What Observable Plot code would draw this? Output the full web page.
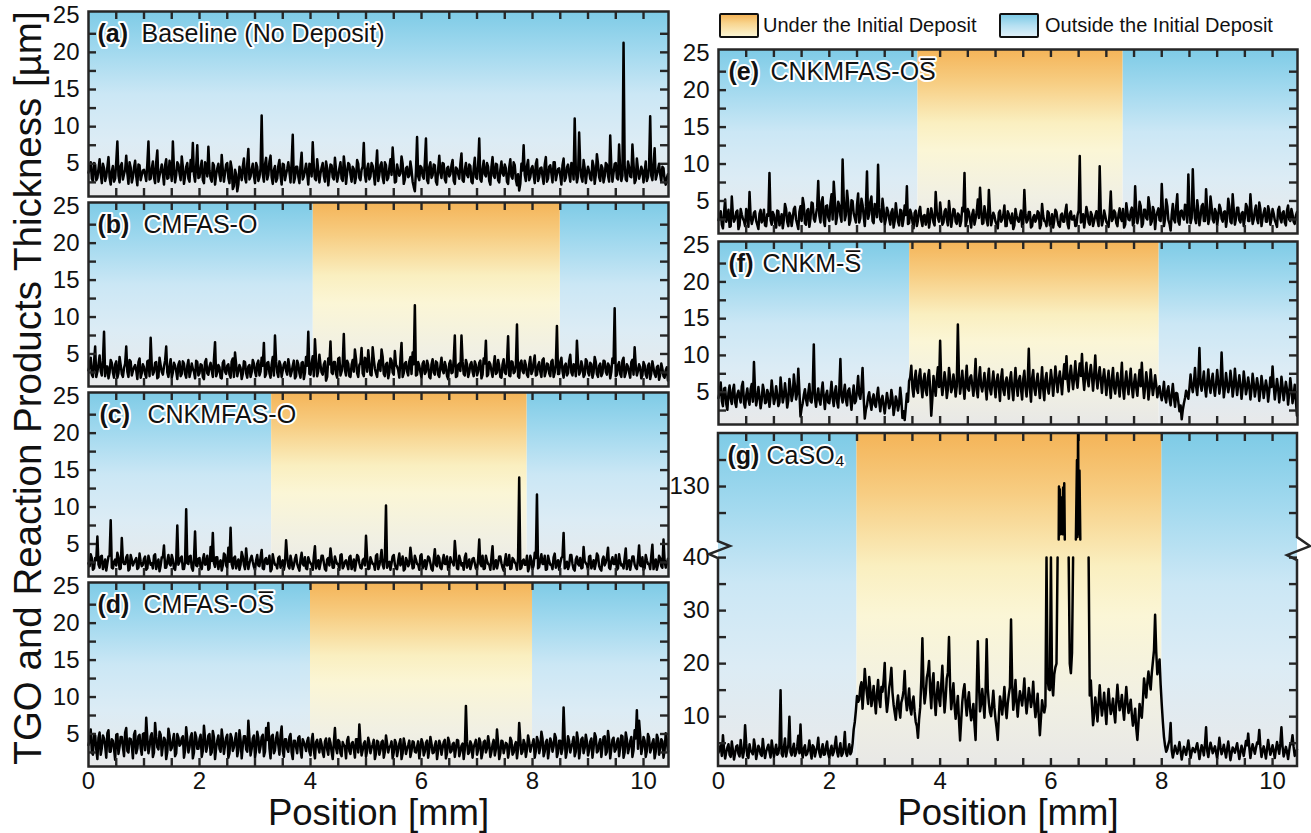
<!DOCTYPE html>
<html>
<head>
<meta charset="utf-8">
<script src="https://cdn.jsdelivr.net/npm/d3@7"></script>
<script src="https://cdn.jsdelivr.net/npm/@observablehq/plot@0.6"></script>
<style>
  html, body { margin: 0; padding: 0; background: #fff; }
  #root { position: relative; width: 1311px; height: 833px; overflow: hidden; font-family: "Liberation Sans", Arial, sans-serif; }
  .panel { position: absolute; }
  .ytitle { position: absolute; left: 28px; top: 388px; transform: translate(-50%, -50%) rotate(-90deg); white-space: nowrap; font-size: 38.5px; color: #111; }
  .legend-swatch { position: absolute; width: 36px; height: 21px; border: 2px solid #111; border-radius: 2px; }
  .legend-text { position: absolute; font-size: 20px; line-height: 24px; color: #111; white-space: nowrap; }
</style>
</head>
<body>
<svg width="0" height="0" style="position:absolute">
  <defs>
    <linearGradient id="gradOut" x1="0" y1="0" x2="0" y2="1">
      <stop offset="0" stop-color="#7ecbe6"/>
      <stop offset="0.2" stop-color="#9fd8ee"/>
      <stop offset="0.45" stop-color="#cbe7f5"/>
      <stop offset="0.7" stop-color="#dcecf5"/>
      <stop offset="1" stop-color="#e8e9ea"/>
    </linearGradient>
    <linearGradient id="gradIn" x1="0" y1="0" x2="0" y2="1">
      <stop offset="0" stop-color="#f4b458"/>
      <stop offset="0.18" stop-color="#f7cd82"/>
      <stop offset="0.4" stop-color="#faefc0"/>
      <stop offset="0.55" stop-color="#fbf6d6"/>
      <stop offset="0.8" stop-color="#f1f0e3"/>
      <stop offset="1" stop-color="#e8e8e6"/>
    </linearGradient>
  </defs>
</svg>
<div id="root"></div>
<script>
// ---------------- DATA ----------------
const step = 0.04;          // sampling interval of the thickness traces [mm]
const xMax = 10.45;         // scanned length [mm]

const panelIds   = ["a", "b", "c", "d", "e", "f", "g"];
const panelNames = ["Baseline (No Deposit)", "CMFAS-O", "CNKMFAS-O", "CMFAS-OS\u0305", "CNKMFAS-OS\u0305", "CNKM-S\u0305", "CaSO\u2084"];
const depositStart = [null, 4.05, 3.3, 4.0, 3.6, 3.45, 2.5];
const depositEnd   = [null, 8.5, 7.9, 8.0, 7.3, 7.95, 8.0];

const xTickLabels = [0, 2, 4, 6, 8, 10];
const yTickLabels = [5, 10, 15, 20, 25];
const gLowerTickLabels = [10, 20, 30, 40];
const gUpperTickLabels = [130];
const legendLabels = ["Under the Initial Deposit", "Outside the Initial Deposit"];
const yTitle = "TGO and Reaction Products Thickness [\u00b5m]";
const xTitle = "Position [mm]";

// samples at x = k*step
const thickA = [
3.8,5.2,2.6,4.9,3.1,5.6,2.4,4.4,3.3,5.9,2.2,4.7,3.0,8.0,2.5,5.1,3.6,6.1,2.3,4.5,3.2,5.4,2.1,4.8,3.5,
4.2,2.7,8.0,3.0,5.3,2.4,6.8,3.4,4.9,2.2,5.6,3.1,4.3,8.0,2.5,5.2,3.7,6.0,2.3,4.6,3.0,5.5,7.8,2.6,7.5,
3.2,5.4,2.4,4.8,7.3,3.0,5.1,2.2,4.4,3.5,6.2,2.6,4.9,3.1,5.3,1.6,4.2,1.3,4.6,2.8,5.7,2.5,7.0,3.3,5.0,
2.4,4.6,3.2,11.5,2.6,5.8,3.5,6.1,2.3,4.7,3.0,5.5,2.2,4.9,3.6,5.2,2.5,8.9,3.1,4.6,2.4,6.5,3.3,5.0,2.2,
4.8,7.9,3.0,5.6,2.5,4.5,3.4,5.3,2.1,4.9,3.2,5.8,2.6,4.4,3.0,6.0,2.3,5.1,3.6,4.6,2.4,5.5,3.1,4.2,7.8,
2.6,5.0,3.3,4.7,2.2,6.8,3.5,5.2,2.4,4.8,3.1,5.6,7.2,2.5,4.9,3.4,6.0,2.3,4.4,3.2,5.3,2.6,1.3,8.6,2.8,
4.5,3.0,8.4,2.4,5.2,3.5,4.8,2.2,6.1,3.1,5.0,2.5,4.6,3.6,5.5,2.3,4.3,3.0,6.4,2.6,5.1,3.2,4.7,2.4,5.8,
3.0,8.4,2.6,5.4,3.3,4.6,2.2,5.9,3.1,4.9,2.5,5.3,3.4,4.4,2.3,5.6,3.0,4.8,2.1,1.4,5.0,7.5,2.7,5.5,3.2,
4.7,2.4,5.6,3.2,4.5,2.3,5.9,3.0,4.8,2.5,5.2,3.6,4.4,2.2,5.7,3.1,4.9,2.6,5.0,11.1,2.5,9.2,3.2,5.5,2.4,
4.6,3.0,5.4,2.3,6.3,3.2,4.8,2.5,5.1,3.4,8.8,2.6,5.0,3.1,7.6,2.7,21.3,2.9,5.3,3.3,7.6,2.4,5.7,3.0,4.6,
2.5,5.3,3.2,11.4,2.8,7.1,3.5,5.0,2.6,4.4,2.2,3.6];
// samples at x = (k + 0.5)*step
const thickAmid = [
4.4,3.0,5.1,2.8,4.3,3.6,5.0,2.7,4.6,3.1,4.0,2.6,5.3,3.4,4.7,2.9,4.2,3.7,5.2,2.5,4.5,3.3,4.9,2.8,4.1,
3.5,5.0,2.9,4.4,3.2,5.2,2.6,4.1,3.7,4.8,3.0,5.4,2.7,4.3,3.5,4.9,2.8,4.6,3.3,5.1,2.6,4.0,3.6,4.7,3.1,
4.5,2.8,5.2,3.3,4.1,2.6,4.8,3.5,5.0,2.7,4.2,3.8,5.1,2.4,4.4,2.0,3.6,2.2,3.9,4.6,3.1,5.0,2.9,4.3,3.4,
5.1,2.7,4.4,3.6,4.9,2.9,5.3,3.2,4.2,2.6,4.7,3.4,5.0,2.8,4.3,3.9,5.2,2.5,4.6,3.3,4.8,2.9,4.1,3.7,5.0,
3.3,4.6,2.8,4.1,3.7,5.1,2.6,4.4,3.5,4.8,2.9,4.2,3.4,5.2,2.7,4.5,3.8,4.9,2.6,4.3,3.2,5.0,2.8,4.6,3.5,
4.3,2.9,5.1,3.6,4.5,2.7,4.8,3.2,5.2,2.8,4.4,3.5,4.9,2.6,4.1,3.7,5.0,2.9,4.6,3.4,4.2,1.9,4.0,3.3,4.7,
3.4,5.2,2.8,4.6,3.1,4.9,2.6,4.3,3.8,5.1,2.9,4.4,3.3,4.8,2.7,4.5,3.6,5.0,2.8,4.2,3.5,4.9,2.6,4.4,3.2,
4.8,2.9,4.3,3.6,5.1,2.7,4.6,3.4,5.0,2.8,4.2,3.7,4.9,2.6,4.5,3.3,5.2,2.9,3.6,2.3,4.1,3.5,4.7,2.8,4.4,
3.5,5.0,2.7,4.4,3.3,4.9,2.6,4.6,3.7,5.2,2.8,4.3,3.4,4.8,2.7,4.5,3.6,5.1,2.9,4.2,3.3,4.7,2.6,4.4,3.8,
4.0,2.8,4.7,3.5,5.0,2.7,4.4,3.3,4.9,2.6,4.5,3.8,5.1,2.9,4.2,3.4,4.8,2.7,4.6,3.2,5.0,2.8,4.3,3.6,4.1,
3.9,2.7,4.5,3.4,4.8,2.9,4.2,3.6,4.6,2.8,3.1];

const thickB = [
2.8,4.5,1.9,6.0,2.6,4.8,2.1,8.0,3.3,1.7,4.2,2.5,3.6,1.8,4.6,2.3,3.1,6.0,1.9,4.0,2.7,3.5,1.6,4.4,2.4,
3.2,1.8,4.1,7.2,2.2,3.8,1.7,4.5,2.6,3.3,6.0,1.9,4.3,2.5,3.4,1.6,4.0,2.3,3.7,1.8,4.2,2.6,3.0,1.7,3.9,
2.4,3.5,1.6,4.3,2.2,3.8,1.9,6.6,2.5,3.2,1.7,4.1,2.3,3.6,1.8,4.4,5.2,2.0,3.5,1.6,4.0,2.4,3.3,1.9,4.2,
2.6,3.7,2.1,4.5,6.5,2.3,3.9,1.8,4.6,7.5,2.5,4.0,1.9,3.6,2.7,4.3,2.0,3.4,1.7,4.1,2.4,3.8,1.6,4.6,8.0,
2.2,4.7,7.0,2.0,4.9,2.5,3.6,1.4,4.4,6.7,2.3,3.9,1.8,4.5,2.6,7.7,2.1,3.7,1.9,4.2,5.6,2.4,3.5,5.8,2.0,
4.3,5.5,2.2,5.9,3.0,1.9,4.1,5.6,2.3,3.6,1.7,4.4,2.5,5.4,3.3,1.8,6.5,2.4,3.9,2.1,4.6,5.2,11.6,2.2,3.4,
1.8,4.0,2.6,3.5,1.7,4.3,2.2,3.8,1.9,4.5,2.4,3.3,1.6,4.1,2.5,7.5,2.0,3.7,7.5,2.3,4.2,1.9,3.6,2.6,4.0,
2.1,3.8,1.7,4.4,6.8,2.2,3.6,1.9,4.7,2.5,3.4,1.8,4.3,2.3,7.4,2.0,3.9,2.6,9.0,1.8,4.1,2.4,3.5,1.9,4.6,
2.7,4.8,2.2,3.9,1.9,4.4,2.6,3.6,2.0,4.2,2.5,8.8,2.3,4.5,1.8,3.7,2.4,4.9,2.1,3.5,6.8,2.2,4.0,1.9,4.3,
2.5,3.8,1.8,4.6,2.3,3.4,2.0,4.1,2.6,3.7,1.7,4.4,11.2,2.2,3.9,1.9,4.5,2.4,3.3,1.8,4.2,5.9,2.1,3.6,1.7,
3.9,2.2,3.4,1.6,4.0,2.3,3.2,1.5,3.7,2.0,2.8,1.4];
const thickBmid = [
3.4,2.2,3.9,1.9,3.6,2.7,4.1,2.0,3.3,2.5,3.8,1.8,4.0,2.4,3.5,1.9,3.7,2.6,4.2,2.1,3.2,2.8,3.9,1.8,3.6,
2.3,4.0,2.0,3.4,2.6,3.9,1.9,3.5,2.2,4.1,2.5,3.3,1.8,3.8,2.7,3.6,2.0,4.0,2.3,3.4,1.9,3.7,2.6,4.1,2.1,
3.6,1.9,3.9,2.4,3.3,2.8,4.2,2.0,3.5,1.8,3.8,2.6,3.4,2.2,4.0,1.9,3.6,2.7,3.1,2.3,3.9,1.8,3.5,2.5,3.7,
2.0,4.1,2.6,3.4,1.9,3.8,2.4,3.6,2.1,4.0,1.9,3.5,2.8,3.9,2.2,3.3,2.6,4.1,2.0,3.6,1.8,3.9,2.5,3.4,2.3,
3.8,2.0,4.2,2.7,3.5,2.2,4.0,1.9,3.6,2.5,3.9,2.3,4.4,2.1,3.7,2.8,4.1,2.0,3.5,2.6,4.3,1.9,3.8,2.4,4.5,
2.6,3.9,2.1,4.3,2.4,3.6,2.7,4.6,2.0,3.8,2.5,4.1,2.2,3.5,2.8,4.4,1.9,3.7,2.6,4.0,2.3,3.6,2.1,3.9,2.5,
3.7,2.3,4.1,1.9,3.6,2.5,4.0,2.2,3.4,2.8,3.9,2.0,3.7,2.4,4.2,1.9,3.5,2.7,4.0,2.1,3.6,2.5,3.9,2.0,3.5,
2.6,4.1,2.2,3.7,2.0,3.9,2.7,3.4,2.3,4.2,1.9,3.6,2.5,3.9,2.1,4.0,2.4,3.5,2.0,3.8,2.7,4.1,2.2,3.6,2.3,
3.9,2.1,3.5,2.6,4.2,2.0,3.7,2.4,4.0,1.9,3.6,2.3,3.9,2.7,3.4,2.1,4.1,2.5,3.6,2.0,3.8,2.6,3.3,2.2,4.0,
2.1,3.6,2.5,3.9,1.9,3.7,2.4,4.0,2.2,3.4,2.6,3.8,2.0,3.5,2.3,4.1,1.9,3.6,2.5,3.9,2.2,3.4,2.7,3.2,2.1,
3.5,1.8,3.7,2.4,3.1,1.9,3.4,2.2,3.0,1.8,3.2];

const thickC = [
2.4,3.6,1.5,3.1,6.0,1.8,3.4,2.2,1.4,3.3,8.2,1.7,2.9,3.8,1.6,5.8,2.3,3.2,1.4,3.5,2.1,2.8,1.6,3.7,2.0,
3.0,1.5,3.4,2.2,1.7,3.6,2.4,1.3,3.2,4.8,1.8,3.5,2.1,2.9,1.5,7.5,2.6,3.3,1.6,9.7,2.3,3.4,1.4,6.7,2.0,
3.1,1.6,3.6,2.3,1.5,4.6,6.5,1.9,3.2,2.5,1.4,3.7,2.1,4.5,7.2,1.7,3.3,2.4,1.5,3.9,2.2,4.4,1.6,3.0,2.6,
1.5,3.5,2.0,4.2,1.6,3.1,2.4,1.3,3.6,2.2,1.7,3.3,2.5,1.5,5.5,2.0,3.4,1.6,3.0,2.3,1.4,3.8,2.1,1.7,3.2,
2.4,1.5,4.7,2.2,1.6,3.4,2.5,1.4,3.1,4.4,1.8,3.3,2.3,1.5,3.6,2.0,2.8,1.6,3.4,2.2,1.4,3.5,2.4,1.7,3.0,
6.1,1.6,3.2,2.3,1.5,3.6,2.1,4.2,1.7,10.2,2.4,1.5,3.3,2.2,1.6,3.7,2.5,1.4,3.1,2.0,4.5,1.7,3.4,2.3,1.5,
3.6,2.2,1.6,3.3,2.4,1.4,4.3,2.0,3.1,1.6,3.5,2.3,1.5,3.2,2.5,5.4,1.7,3.4,2.1,1.5,3.7,2.2,1.6,3.0,2.4,
1.5,5.6,2.0,1.6,3.4,2.3,1.5,4.7,2.1,1.7,3.3,2.4,1.4,3.6,2.2,1.6,3.1,2.5,1.5,14.0,1.8,2.9,2.2,1.3,3.4,
1.6,3.8,11.7,1.9,3.6,2.3,1.5,3.4,2.2,1.6,3.7,2.4,1.5,3.1,6.5,2.0,1.6,3.5,2.3,1.4,3.3,2.1,1.7,4.6,2.4,
1.5,3.4,2.2,1.6,3.7,2.0,1.4,3.3,2.5,4.5,1.6,3.2,2.3,1.5,3.6,2.1,1.7,4.4,2.4,1.5,3.3,2.2,1.6,4.8,2.0,
1.5,3.5,2.3,1.6,4.9,2.2,1.5,3.4,2.0,5.6,1.8,3.0];
const thickCmid = [
2.0,3.1,1.7,2.8,2.2,3.3,1.6,2.9,2.4,3.4,1.8,2.6,2.1,3.2,1.7,2.7,2.3,3.5,1.6,2.9,2.5,3.1,1.8,2.6,2.2,
3.3,1.7,2.8,2.4,3.4,1.6,2.9,2.1,3.2,1.8,2.7,2.3,3.5,1.7,2.8,2.2,3.1,1.6,2.6,2.4,3.3,1.8,2.9,2.1,3.0,
1.8,2.9,2.2,3.4,1.7,2.7,2.4,3.2,1.6,2.8,2.1,3.5,1.8,2.6,2.3,3.1,1.7,2.9,2.2,3.3,1.6,2.7,2.4,3.4,1.9,
2.8,2.1,3.2,1.7,2.9,2.3,3.4,1.6,2.7,2.2,3.1,1.8,2.8,2.4,3.3,1.7,2.6,2.1,3.5,1.8,2.9,2.3,3.2,1.6,2.7,
2.2,3.3,1.7,2.8,2.4,3.4,1.6,2.9,2.1,3.1,1.8,2.7,2.3,3.5,1.7,2.6,2.2,3.2,1.6,2.9,2.4,3.3,1.8,2.8,2.1,
3.2,1.7,2.7,2.3,3.4,1.6,2.9,2.2,3.1,1.8,2.6,2.4,3.5,1.7,2.8,2.1,3.3,1.6,2.7,2.3,3.2,1.8,2.9,2.2,3.4,
1.7,2.8,2.4,3.1,1.6,2.9,2.2,3.4,1.8,2.7,2.3,3.3,1.7,2.6,2.1,3.5,1.6,2.8,2.4,3.2,1.8,2.9,2.2,3.1,1.7,
2.9,2.3,3.4,1.7,2.7,2.2,3.2,1.6,2.8,2.4,3.3,1.8,2.6,2.1,3.5,1.7,2.9,2.3,3.1,1.6,2.7,2.2,3.4,1.8,2.8,
2.1,3.1,1.7,2.9,2.3,3.4,1.6,2.7,2.2,3.2,1.8,2.8,2.4,3.3,1.7,2.6,2.1,3.5,1.6,2.9,2.3,3.1,1.8,2.7,2.2,
3.3,1.7,2.8,2.4,3.4,1.6,2.9,2.1,3.2,1.8,2.7,2.3,3.5,1.7,2.6,2.2,3.1,1.6,2.8,2.4,3.3,1.8,2.9,2.1,3.2,
1.7,2.8,2.3,3.4,1.6,2.9,2.2,3.1,1.8,2.7,2.4];

const thickD = [
3.5,5.6,2.2,4.8,1.6,5.2,3.1,4.4,1.8,5.5,2.6,4.1,1.5,5.0,3.3,4.6,2.0,5.8,2.5,4.3,1.7,5.4,3.0,4.9,2.2,
5.1,7.2,2.4,4.7,1.9,6.5,3.2,5.3,2.1,4.5,1.6,5.7,2.8,4.2,2.0,5.0,3.4,4.4,1.8,5.9,2.5,4.6,1.7,5.2,3.0,
4.3,1.9,6.1,2.6,4.8,2.2,5.4,1.6,4.1,3.0,5.6,2.3,4.5,1.8,5.0,2.7,4.2,2.0,5.5,1.7,4.7,2.9,6.8,2.1,4.4,
1.8,5.3,2.5,4.6,2.0,5.8,6.5,1.7,4.9,2.8,5.2,2.2,6.0,1.9,4.3,2.6,5.0,1.6,4.1,2.4,4.7,1.8,3.9,2.7,4.5,
2.1,5.0,1.7,4.2,2.5,3.6,1.9,4.4,2.2,3.8,1.6,5.8,2.4,4.0,2.0,3.5,1.7,4.6,2.3,3.9,1.8,4.3,6.3,2.1,3.7,
1.9,4.5,2.4,3.6,1.6,4.1,2.2,3.9,1.8,4.8,2.5,3.4,1.7,4.2,2.0,3.7,1.6,4.4,2.3,3.5,1.9,4.0,2.6,3.3,1.7,
4.3,2.1,3.8,1.8,4.6,2.4,3.5,1.6,4.1,2.2,3.9,1.7,4.5,2.5,3.6,1.9,4.2,2.0,3.4,1.6,8.8,2.3,4.0,1.8,3.7,
2.2,4.4,1.7,3.9,2.5,4.7,1.9,3.6,2.1,5.6,1.6,4.1,2.4,3.8,1.8,4.5,2.2,3.5,1.7,6.5,2.3,4.2,1.9,4.8,2.6,
3.7,1.8,4.6,2.4,5.3,2.0,3.9,1.7,4.4,2.6,5.0,1.9,4.1,2.3,8.6,1.8,4.7,2.5,3.8,2.0,5.2,1.7,4.3,2.4,4.9,
2.1,4.0,1.8,5.1,2.5,3.7,1.9,4.6,2.2,5.4,1.7,4.2,2.6,3.9,2.0,4.8,1.8,5.2,2.4,4.0,1.9,5.5,8.2,6.8,2.3,
4.6,1.9,5.0,2.5,3.8,1.7,4.9,2.2,4.3,1.8,5.1,2.6];
const thickDmid = [
4.2,2.5,5.0,2.9,4.5,2.2,4.8,3.4,5.1,2.6,4.3,3.0,4.9,2.3,4.6,3.2,5.2,2.7,4.4,3.5,4.9,2.4,4.7,3.1,5.0,
2.8,4.4,3.3,5.1,2.5,4.6,2.9,4.9,3.4,4.2,2.6,4.8,3.1,5.0,2.4,4.5,3.6,4.7,2.8,4.3,3.2,5.1,2.5,4.6,3.0,
4.9,2.7,4.4,3.3,5.0,2.5,4.6,3.1,4.8,2.6,4.3,3.5,4.9,2.4,4.5,3.2,5.1,2.8,4.2,3.4,4.7,2.6,4.4,3.0,4.8,
2.9,4.5,3.3,4.9,2.6,4.2,3.1,4.7,2.4,4.4,3.5,4.8,2.7,4.3,3.0,4.6,2.5,4.1,3.2,4.5,2.8,4.3,3.4,4.0,2.6,
4.1,2.8,3.9,3.2,4.3,2.5,4.0,2.9,4.4,2.6,3.8,3.1,4.2,2.4,3.9,3.3,4.1,2.7,3.7,3.0,4.3,2.5,3.9,2.8,4.0,
2.7,3.8,3.1,4.2,2.4,3.9,2.8,4.1,2.6,3.7,3.2,4.0,2.5,3.8,2.9,4.3,2.4,3.6,3.0,4.1,2.7,3.9,2.5,4.0,2.9,
3.8,2.6,4.1,2.9,3.7,2.5,4.0,2.8,3.6,3.1,4.2,2.4,3.9,2.7,3.8,3.0,4.1,2.6,3.7,2.9,4.0,2.5,3.6,3.2,4.2,
2.8,3.9,2.5,4.1,3.0,3.7,2.6,4.2,2.9,3.8,2.4,4.0,3.1,3.6,2.7,4.1,2.5,3.9,3.0,4.2,2.6,3.7,2.9,4.0,3.3,
4.3,2.7,4.0,3.1,4.4,2.6,4.2,2.9,3.9,3.3,4.5,2.5,4.1,3.0,4.4,2.7,4.0,3.2,4.6,2.6,4.2,2.9,4.5,3.1,4.0,
2.8,4.4,3.1,4.6,2.7,4.3,3.3,4.7,2.6,4.2,3.0,4.5,2.9,4.4,3.2,4.7,2.5,4.3,3.1,4.6,2.8,4.4,3.0,4.8,3.2,
4.1,2.7,4.5,3.0,4.3,2.6,4.4,3.1,4.0,2.8,4.2];

const thickE = [
2.4,3.6,1.3,5.2,2.8,1.5,5.6,2.2,3.5,1.2,3.9,2.6,1.6,3.3,6.2,1.9,3.4,2.3,1.2,3.8,2.5,1.7,3.2,8.8,1.8,
3.1,1.4,3.6,2.4,1.3,4.6,2.2,3.4,1.6,3.9,2.5,1.2,4.3,5.4,2.0,3.7,1.5,4.8,2.6,3.2,7.7,2.1,5.5,1.6,4.4,
2.3,5.9,7.6,1.9,4.9,3.0,10.6,2.4,6.4,1.8,5.1,3.3,2.1,6.0,2.7,4.5,1.6,9.0,3.2,5.6,2.0,4.2,9.9,2.5,5.3,
1.8,4.1,2.6,3.5,1.4,4.7,2.2,3.8,1.6,4.4,7.0,2.0,3.3,1.3,3.7,2.4,4.2,1.6,3.1,2.5,1.4,4.0,2.1,6.2,2.7,
4.8,1.8,3.6,2.5,5.0,1.5,3.9,2.2,3.3,1.6,4.1,8.8,2.3,3.5,1.4,3.8,2.6,5.2,6.8,1.9,4.3,2.4,6.5,1.7,3.4,
2.2,1.3,3.7,2.5,4.4,1.6,3.2,2.0,1.2,3.9,2.4,3.0,1.5,6.5,2.1,3.5,1.4,2.8,2.2,3.6,1.3,4.6,2.3,1.6,3.4,
2.0,1.4,3.8,2.4,1.5,3.3,2.2,4.5,1.3,3.6,2.5,1.6,3.1,11.1,2.3,1.4,4.2,2.1,3.5,1.6,3.0,2.4,9.7,1.7,3.7,
2.2,1.5,6.3,2.6,3.4,1.6,4.0,2.3,1.4,4.7,2.5,3.6,1.7,7.0,2.0,4.9,1.5,3.8,2.7,5.5,1.8,4.2,1.2,3.5,2.4,
7.3,1.6,5.2,2.4,1.0,4.6,2.1,5.9,1.8,3.7,2.5,4.4,8.6,2.0,9.3,2.6,5.1,1.7,4.3,2.3,6.6,1.9,5.6,2.5,3.9,
1.7,4.5,2.6,3.5,1.5,5.3,2.2,5.9,1.8,4.1,2.4,3.3,1.6,4.6,2.3,5.9,1.9,3.7,2.5,4.8,1.6,3.4,2.2,4.3,1.8,
3.9,2.4,1.5,4.2,2.1,3.6,1.7,4.4,2.3,3.2,1.9,3.5];
const thickEmid = [
3.0,1.8,3.4,2.2,3.8,1.6,3.1,2.6,3.7,1.7,3.2,2.3,3.9,1.5,2.9,2.5,3.6,1.8,3.3,2.1,3.8,1.6,3.0,2.4,3.5,
2.0,3.7,1.7,3.2,2.5,3.9,1.6,3.0,2.7,4.2,1.9,3.5,2.3,4.5,1.8,3.9,2.6,4.7,2.2,4.1,3.0,4.9,2.4,4.3,2.8,
4.6,2.5,5.2,2.9,4.4,2.2,5.5,3.1,4.8,2.4,5.0,2.7,4.5,2.1,5.3,3.0,4.2,2.6,4.9,2.3,4.6,2.8,4.1,2.2,3.9,
2.5,3.6,1.8,3.9,2.3,3.3,1.7,3.7,2.6,3.1,1.9,3.8,2.2,3.4,1.6,3.6,2.4,3.0,1.8,3.9,2.5,3.2,1.7,3.5,2.2,
3.3,2.1,3.9,1.7,3.4,2.6,3.8,1.9,3.1,2.3,3.6,1.6,3.9,2.4,3.2,1.8,3.5,2.7,4.0,2.0,3.3,1.7,3.7,2.5,3.0,
1.8,3.4,2.2,3.1,1.6,3.6,2.5,3.3,1.7,3.0,2.2,3.7,1.9,3.2,2.4,3.5,1.6,3.1,2.6,3.4,1.8,3.0,2.2,3.6,1.7,
3.2,2.4,3.5,1.7,3.1,2.2,3.6,1.9,3.3,2.5,3.0,1.7,3.7,2.1,3.2,2.6,3.4,1.8,3.1,2.3,3.6,1.6,3.3,2.4,3.0,
1.9,3.4,2.3,3.7,2.0,3.2,2.7,3.9,1.8,3.5,2.4,4.1,2.1,3.6,2.8,4.3,1.9,3.8,2.5,4.4,2.2,3.7,2.9,4.0,2.3,
3.9,2.6,4.3,1.9,3.2,2.5,4.2,2.2,3.6,2.9,4.5,2.1,3.8,2.7,4.4,2.0,3.7,2.8,4.6,2.3,3.9,2.6,4.2,2.1,3.5,
2.9,4.0,2.2,3.6,2.7,4.3,2.0,3.8,2.6,4.1,2.1,3.5,2.8,4.2,2.3,3.7,2.5,4.4,2.0,3.9,2.7,4.0,2.2,3.6,2.6,
3.3,2.0,3.8,2.6,3.4,2.1,3.7,2.5,3.9,2.2,3.0];

const thickF = [
4.2,6.3,3.1,5.6,2.6,5.9,3.4,6.0,3.0,5.2,3.6,6.4,2.9,5.5,3.3,6.1,9.1,3.2,5.7,2.8,6.0,3.5,5.3,3.0,6.6,
3.4,5.8,3.1,7.0,3.6,6.2,2.9,6.8,3.8,7.4,4.0,8.2,1.7,3.5,5.4,3.2,6.1,3.6,11.5,3.0,5.5,3.3,6.3,2.7,5.2,
3.5,6.4,3.1,5.8,2.9,9.5,3.6,6.0,3.2,5.5,2.6,5.9,3.8,7.2,4.1,8.3,1.4,3.2,5.0,2.6,4.7,3.0,5.6,2.4,4.5,
2.1,4.9,2.8,5.3,1.9,4.4,2.5,5.6,1.5,1.2,4.8,6.5,8.6,4.4,7.9,4.9,8.1,4.3,7.5,4.6,8.0,1.8,7.2,4.5,8.4,
12.0,4.6,7.7,4.2,8.3,5.0,7.4,4.4,14.2,4.8,7.9,4.1,8.6,5.2,7.3,4.5,9.5,4.3,8.4,5.1,7.6,4.0,8.2,4.7,7.8,
4.3,7.4,3.8,8.1,4.6,7.0,4.1,7.7,3.9,8.3,4.5,7.2,4.0,7.9,4.4,10.9,3.7,8.0,4.6,7.5,4.2,8.4,3.9,7.6,4.8,
8.0,4.5,8.5,5.0,7.8,4.7,8.8,9.9,5.1,8.6,5.4,9.2,5.6,8.9,10.2,5.3,9.0,5.8,8.7,5.2,10.0,5.5,8.4,4.9,8.1,
4.6,7.9,4.2,8.3,4.8,7.6,4.4,9.0,4.1,7.8,4.7,8.2,4.3,7.4,4.5,8.0,9.0,4.2,7.7,4.0,8.1,4.6,7.3,4.3,5.8,
3.9,6.4,3.6,5.8,3.2,6.1,3.0,4.8,2.4,1.3,3.5,5.2,4.1,7.4,5.0,8.3,4.6,11.0,5.2,7.8,4.4,8.1,4.9,7.5,4.5,
8.0,4.8,10.4,4.3,7.6,5.0,7.9,4.4,8.2,4.6,7.3,4.1,7.8,4.7,7.0,4.0,7.5,4.4,6.9,3.8,7.2,4.2,6.6,3.7,7.0,
8.5,4.0,6.8,3.6,7.1,3.9,6.4,3.3,6.9,3.5,6.0,1.8];
const thickFmid = [
5.0,3.8,5.5,3.4,4.9,4.1,5.3,3.6,4.7,4.3,5.8,3.5,4.6,4.0,5.4,3.7,5.1,4.2,4.4,3.9,5.2,3.6,4.8,4.4,5.0,
4.1,4.7,3.6,5.3,4.4,4.8,3.9,5.5,4.6,5.9,4.8,5.2,2.8,4.6,4.0,4.9,3.8,5.3,4.2,4.5,3.9,5.1,4.3,4.6,3.6,
4.8,4.2,5.0,3.7,5.4,4.4,4.9,3.9,5.2,4.1,4.5,3.5,5.3,4.6,5.7,4.2,2.6,4.4,3.6,4.1,3.3,4.5,3.7,4.0,3.2,
3.5,3.9,3.3,4.2,2.9,3.8,3.4,4.0,2.4,2.9,3.7,7.0,5.6,6.7,5.4,7.1,5.8,6.6,5.2,7.0,5.5,4.1,5.9,6.8,5.7,
6.2,5.9,6.5,5.4,6.9,5.6,6.3,5.8,7.2,6.1,5.7,6.6,5.5,7.0,5.9,6.4,5.3,6.8,5.8,6.2,5.6,6.7,5.4,6.3,5.9,
6.5,5.6,6.9,5.3,6.4,5.8,6.7,5.5,6.2,5.9,6.6,5.4,6.8,5.7,6.3,5.6,6.9,5.5,6.4,5.8,6.1,5.4,6.7,5.6,6.2,
6.6,6.3,6.9,6.7,6.4,7.0,6.8,6.6,7.3,6.9,7.1,6.7,7.5,7.2,7.0,7.4,6.8,7.6,7.1,7.3,6.9,7.2,6.7,6.9,6.4,
6.5,5.9,6.8,5.6,6.4,5.8,6.7,5.5,6.3,5.9,6.6,5.7,6.2,5.6,6.5,5.8,6.1,5.7,6.4,5.5,6.2,5.8,6.0,5.4,4.6,
5.0,4.3,5.2,4.1,4.7,4.3,4.9,3.6,3.2,2.6,4.2,4.7,5.6,5.9,6.2,5.8,6.8,6.0,6.5,5.7,6.3,5.9,6.6,5.6,6.1,
6.4,5.9,6.7,5.6,6.2,5.8,6.5,5.7,6.3,5.9,6.0,5.5,6.4,5.6,5.9,5.4,6.2,5.5,5.8,5.2,6.0,5.4,5.6,5.1,5.7,
6.0,5.3,5.6,4.9,5.8,5.1,5.4,4.8,5.5,4.6,3.9];

// (g) lower range of the broken axis; values above the break are shown at the
// break (40), null = trace out of both visible ranges
const thickG = [
3.2,4.6,6.5,2.1,4.2,2.8,5.3,1.9,4.4,3.0,5.6,2.3,8.4,2.6,4.8,3.3,5.7,2.0,4.5,2.9,5.8,2.2,4.1,3.4,5.5,
2.4,4.7,3.1,15.0,2.5,5.9,3.6,10.0,2.7,4.9,3.2,6.4,8.5,2.3,4.6,3.0,5.5,2.1,4.3,3.5,6.0,2.4,4.8,2.9,5.3,
2.2,4.5,3.3,6.2,2.5,5.0,3.0,7.1,2.6,4.8,3.4,7.6,11.2,12.8,15.6,11.5,19.0,14.2,17.5,12.0,15.8,10.6,16.9,11.8,14.7,
20.1,10.9,15.4,19.2,12.3,9.4,14.0,9.8,13.5,18.6,11.2,15.3,10.4,13.8,9.0,6.0,11.7,24.8,12.5,17.4,20.5,11.6,18.2,10.3,16.5,
12.0,19.6,10.8,17.2,25.0,11.4,16.3,9.6,13.9,5.5,12.8,16.1,10.2,14.6,9.3,12.4,5.6,24.2,11.0,15.2,9.8,24.6,12.6,10.1,14.9,
9.5,5.6,13.8,10.4,15.6,9.7,14.2,28.3,11.3,16.9,10.0,14.8,12.1,17.2,10.6,15.4,11.8,16.6,9.9,14.3,6.5,13.1,10.8,40,15.2,
40,14.0,19.3,40,null,null,null,null,40,18.2,40,null,null,null,null,null,null,40,16.8,8.4,13.6,9.1,15.9,10.2,14.5,
8.6,15.2,10.5,13.4,8.9,16.0,11.2,14.1,9.4,15.6,10.7,13.2,8.3,11.5,5.6,12.4,9.8,17.2,13.6,18.5,15.1,20.4,29.2,18.0,20.8,
12.3,6.2,3.4,4.8,8.8,2.3,4.5,3.0,5.2,1.9,4.3,2.8,5.5,2.2,4.1,3.3,5.0,2.0,4.6,2.7,8.0,2.4,5.1,3.1,4.4,
2.1,6.0,2.9,4.7,2.3,5.3,1.8,4.2,3.2,5.0,2.0,4.5,2.6,5.4,6.8,2.2,4.8,3.0,5.1,7.5,2.4,4.4,2.1,5.6,2.8,
4.6,2.2,5.2,3.0,8.0,2.5,4.3,2.0,5.0,6.5,2.6,3.8];
const thickGmid = [
4.1,2.6,3.9,3.3,4.8,2.4,3.7,3.1,4.6,2.5,3.8,3.5,4.9,2.2,3.6,2.9,4.4,3.2,4.0,2.6,3.7,3.4,4.7,2.3,3.9,
3.6,2.8,4.5,3.0,4.1,2.5,4.6,3.3,3.9,2.6,4.3,3.1,3.5,4.0,2.7,3.8,3.4,4.6,2.5,4.2,3.2,3.7,2.8,4.4,3.0,
3.7,2.7,4.6,3.4,3.9,2.6,4.4,3.2,3.8,2.9,4.9,9.0,13.9,13.2,16.5,14.8,16.1,12.4,15.2,13.7,12.9,14.4,13.3,15.6,16.8,
13.6,12.8,16.9,14.6,10.8,12.2,11.5,12.7,14.9,13.4,12.9,11.6,12.8,10.9,8.2,9.5,16.8,15.6,14.3,18.4,14.9,16.3,13.2,14.1,13.4,
16.1,14.6,13.5,18.3,15.8,13.7,12.1,11.8,9.4,9.2,14.9,12.7,12.9,11.4,10.5,8.6,14.6,16.3,12.4,12.8,14.7,15.3,10.8,12.3,11.7,
7.8,10.1,12.6,12.8,11.9,12.4,15.6,16.2,13.4,12.7,12.9,13.6,14.3,13.1,12.8,13.9,13.2,12.4,11.8,10.2,9.8,11.6,12.0,17.0,15.0,
16.0,18.0,20.0,null,null,null,null,null,20.0,22.0,null,null,null,null,null,null,null,14.0,12.2,10.5,11.8,12.4,12.7,12.0,11.3,
12.4,12.5,11.6,10.8,12.9,13.2,12.3,11.4,12.8,12.6,11.9,10.4,9.6,7.8,8.9,10.6,13.1,15.4,16.4,16.6,18.2,22.5,22.3,19.3,16.0,
9.0,4.5,3.9,5.6,3.6,3.4,3.8,4.0,3.5,3.2,3.6,4.1,3.9,3.3,3.7,4.2,3.6,3.4,3.9,4.8,3.6,3.9,4.2,3.8,3.3,
3.9,4.2,3.7,3.5,3.9,3.6,3.1,3.8,4.1,3.5,3.3,3.6,4.0,4.6,4.2,3.7,3.9,4.1,4.9,4.3,3.5,3.4,3.9,4.1,3.6,
3.5,3.8,4.2,4.9,4.4,3.3,3.4,3.6,4.8,4.3,3.2];

// (g) upper range of the broken axis: the spikes that reach above ~120 µm
const gUpperX = [6.14, 6.145, 6.15, 6.16, 6.17, 6.18, 6.19, 6.2, 6.21, 6.22, 6.23, 6.24, 6.25, null,
                 6.45, 6.47, 6.48, 6.49, 6.5, 6.515, 6.53];
const gUpperY = [120, 130.0, 121, 129.5, 121, 128.0, 121.5, 127.6, 121, 129.8, 121, 130.6, 120, null,
                 120, 135, 120.5, 141, 121, 133, 120];

const series = [thickA, thickB, thickC, thickD, thickE, thickF, thickG];
const seriesMid = [thickAmid, thickBmid, thickCmid, thickDmid, thickEmid, thickFmid, thickGmid];

// ---------------- LAYOUT / STYLE ----------------
const FONT = '"Liberation Sans", Arial, sans-serif';
const yDomain = [0.6, 25.5];
const gBreak = 41.7;          // lower range ends here
const gOffset = 76.6;         // 118.3 (upper range start) - 41.7
const gDomain = [0.6, 140 - gOffset];
const cols = [
  {left: 0, width: 680, frameLeft: 88, frameRight: 668},
  {left: 660, width: 651, frameLeft: 718, frameRight: 1297}
];
const panelLayout = {
  a: {col: 0, top: 11,  h: 185, tagDx: 9,  nameDx: 53},
  b: {col: 0, top: 202, h: 184, tagDx: 9,  nameDx: 55},
  c: {col: 0, top: 392, h: 184, tagDx: 11, nameDx: 59},
  d: {col: 0, top: 582, h: 184, tagDx: 9,  nameDx: 55, xLabels: true},
  e: {col: 1, top: 49,  h: 184, tagDx: 10, nameDx: 52},
  f: {col: 1, top: 241, h: 183, tagDx: 10, nameDx: 44},
  g: {col: 1, top: 433, h: 333, tagDx: 9,  nameDx: 48, xLabels: true, broken: true}
};
const frameColor = "#262626";
const TICK = 8;          // tick length [px]
const TRACE_W = 2.5;

const root = document.getElementById("root");

function makePanel(i) {
  const id = panelIds[i];
  const L = panelLayout[id];
  const C = cols[L.col];
  const broken = !!L.broken;
  const mT = 14, mB = L.xLabels ? 66 : 14;
  const mL = C.frameLeft - C.left;
  const mR = C.left + C.width - C.frameRight;
  const frameW = C.frameRight - C.frameLeft;
  const height = L.h + mT + mB;
  const toT = v => (v == null ? null : (broken && v > gBreak ? v - gOffset : v));
  const yDom = broken ? gDomain : yDomain;

  const main = series[i], mid = seriesMid[i];
  const pts = [];
  main.forEach((v, k) => {
    pts.push({x: k * step, y: toT(v)});
    if (k < mid.length) pts.push({x: (k + 0.5) * step, y: toT(mid[k])});
  });
  const outBands = depositStart[i] == null
    ? [{x1: 0, x2: xMax}]
    : [{x1: 0, x2: depositStart[i]}, {x1: depositEnd[i], x2: xMax}];
  const inBands = depositStart[i] == null ? [] : [{x1: depositStart[i], x2: depositEnd[i]}];

  const xTicks = d3.range(0.5, 10.01, 0.5);
  const yTicks = broken
    ? [5, 10, 15, 20, 25, 30, 35, 40, 125, 130, 135].map(toT)
    : d3.range(2.5, 24.99, 2.5);
  const yLabelTicks = broken ? gLowerTickLabels.concat(gUpperTickLabels).map(toT) : yTickLabels;
  const yFmt = broken ? (d => String(Math.round(d > gBreak ? d + gOffset : d))) : (d => String(d));

  // tick length expressed in each scale's units
  const tyU = TICK * (yDom[1] - yDom[0]) / L.h;
  const txU = TICK * xMax / frameW;
  const tk = {stroke: frameColor, strokeWidth: 2.4, strokeLinecap: "butt"};

  const marks = [
    Plot.rect(outBands, {x1: "x1", x2: "x2", y1: yDom[0], y2: yDom[1], fill: "url(#gradOut)"}),
    Plot.rect(inBands, {x1: "x1", x2: "x2", y1: yDom[0], y2: yDom[1], fill: "url(#gradIn)"}),
    Plot.line(pts, {x: "x", y: "y", stroke: "#000", strokeWidth: TRACE_W}),
    // inward tick marks on all four sides
    Plot.ruleX(xTicks, {x: d => d, y1: yDom[1], y2: yDom[1] - tyU, ...tk}),
    Plot.ruleX(xTicks, {x: d => d, y1: yDom[0], y2: yDom[0] + tyU, ...tk}),
    Plot.ruleY(yTicks, {y: d => d, x1: 0, x2: txU, ...tk}),
    Plot.ruleY(yTicks, {y: d => d, x1: xMax - txU, x2: xMax, ...tk}),
    Plot.axisY(yLabelTicks, {anchor: "left", tickSize: 0, tickPadding: 9, fontSize: 24, label: null, tickFormat: yFmt, fill: "#111"}),
    Plot.text([`(${id})`], {frameAnchor: "top-left", dx: L.tagDx, dy: 22, lineAnchor: "middle", textAnchor: "start",
      text: d => d, fontSize: 25, fontWeight: "bold", fill: "#111", stroke: "white", strokeWidth: 4}),
    Plot.text([panelNames[i]], {frameAnchor: "top-left", dx: L.nameDx, dy: 22, lineAnchor: "middle", textAnchor: "start",
      text: d => d, fontSize: 25, fill: "#111", stroke: "white", strokeWidth: 4})
  ];
  if (broken) {
    const up = gUpperX.map((x, k) => ({x, y: toT(gUpperY[k])}));
    marks.push(Plot.line(up, {x: "x", y: "y", stroke: "#000", strokeWidth: TRACE_W, clip: true}));
  } else {
    marks.push(Plot.frame({stroke: frameColor, strokeWidth: 2.5}));
  }
  if (L.xLabels) {
    marks.push(Plot.axisX(xTickLabels, {anchor: "bottom", tickSize: 0, tickPadding: 5, fontSize: 24, label: null, fill: "#111"}));
    marks.push(Plot.text([xTitle], {frameAnchor: "bottom", dy: 47, lineAnchor: "middle", text: d => d, fontSize: 36.5, fill: "#111"}));
  }

  const svg = Plot.plot({
    width: C.width, height,
    marginTop: mT, marginBottom: mB, marginLeft: mL, marginRight: mR,
    x: L.xLabels ? {domain: [0, xMax], label: null} : {domain: [0, xMax], label: null, axis: null},
    y: {domain: yDom, label: null},
    style: {background: "transparent", overflow: "visible", fontFamily: FONT},
    marks
  });

  if (broken) {
    // frame with the axis-break zigzags on both sides
    const ys = svg.scale("y");
    const yb = ys.apply(gBreak);
    const l = mL, r = C.width - mR, t = mT, b = height - mB;
    const p = `M${l},${t}H${r}V${yb - 11}L${r + 13},${yb - 2}L${r - 10},${yb + 7}L${r},${yb + 12}V${b}H${l}` +
              `V${yb + 10}L${l - 9},${yb + 6}L${l + 12},${yb - 2}L${l},${yb - 7}Z`;
    d3.select(svg).append("path").attr("d", p).attr("fill", "none")
      .attr("stroke", frameColor).attr("stroke-width", 2.5).attr("stroke-linejoin", "miter");
  }

  const div = document.createElement("div");
  div.className = "panel";
  div.style.left = C.left + "px";
  div.style.top = (L.top - mT) + "px";
  div.style.width = C.width + "px";
  div.appendChild(svg);
  root.appendChild(div);
}

panelIds.forEach((_, i) => makePanel(i));

// y-axis title
const yt = document.createElement("div");
yt.className = "ytitle";
yt.textContent = yTitle;
root.appendChild(yt);

// legend
const legendItems = [
  {sw: 719, tx: 763, bg: "linear-gradient(to bottom, #f4b458 0%, #f8d58f 40%, #fbf4d2 100%)"},
  {sw: 999, tx: 1045, bg: "linear-gradient(to bottom, #7ecbe6 0%, #b5e0f2 50%, #dff0f8 100%)"}
];
legendItems.forEach((it, k) => {
  const s = document.createElement("div");
  s.className = "legend-swatch";
  s.style.left = it.sw + "px"; s.style.top = "13px"; s.style.background = it.bg;
  root.appendChild(s);
  const t = document.createElement("div");
  t.className = "legend-text";
  t.style.left = it.tx + "px"; t.style.top = "13px";
  t.textContent = legendLabels[k];
  root.appendChild(t);
});
</script>
</body>
</html>
